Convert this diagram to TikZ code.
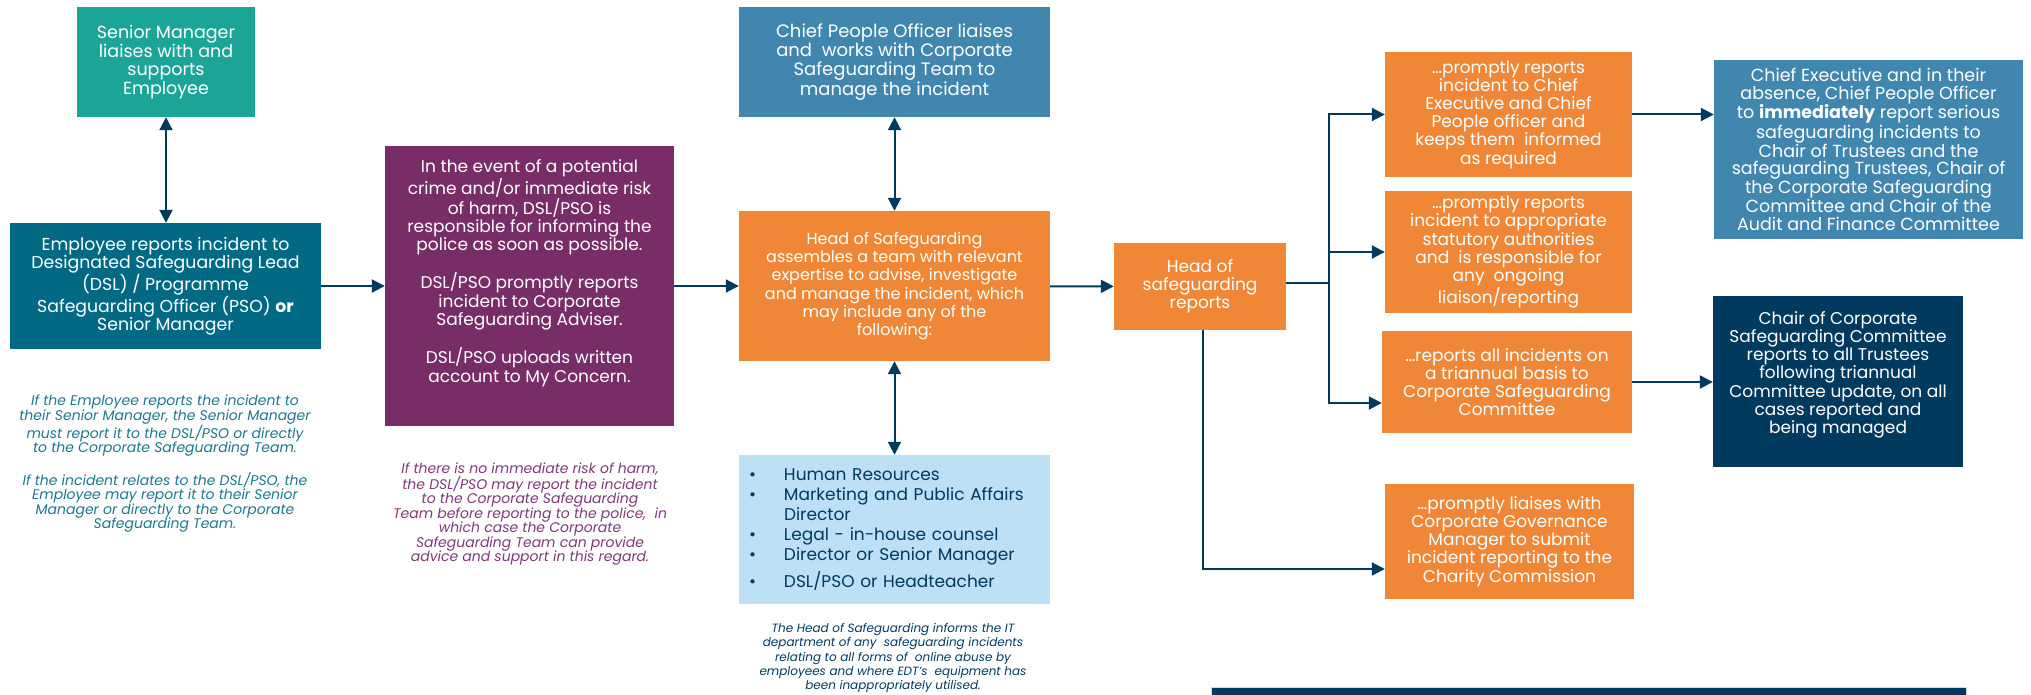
\documentclass[tikz,border=0pt]{standalone}
\usepackage{fontspec}
\setmainfont{Poppins}
\usetikzlibrary{positioning,arrows.meta}
\definecolor{cteal}{RGB}{26,165,150}
\definecolor{cpetrol}{RGB}{0,106,133}
\definecolor{cplum}{RGB}{120,45,103}
\definecolor{csteel}{RGB}{65,134,174}
\definecolor{corange}{RGB}{240,135,55}
\definecolor{csky}{RGB}{189,224,246}
\definecolor{cnavy}{RGB}{0,58,94}
\definecolor{cnoteT}{RGB}{27,120,140}
\definecolor{cnoteP}{RGB}{125,58,120}
\tikzset{
  box/.style={rectangle,fill=#1,text=white,inner sep=2pt,align=center,font=\fontsize{17}{18.2}\selectfont},
  boxS/.style={rectangle,fill=csky,text=cnavy,inner xsep=10pt,inner ysep=2pt,align=left,text width=291pt,font=\fontsize{17}{20}\selectfont},
  note/.style={text=#1,align=center,inner sep=0pt,font=\fontsize{14}{14.5}\selectfont\itshape},
  pipe/.style={draw=cnavy,line width=2pt},
  arr/.style={pipe,-{Triangle[length=13pt,width=13pt]}},
  arrB/.style={pipe,{Triangle[length=13pt,width=13pt]}-{Triangle[length=13pt,width=13pt]}},
}
\newcommand{\itm}{\makebox[35pt][l]{\textbullet}}
\begin{document}
\begin{tikzpicture}[x=1pt,y=-1pt]
  \useasboundingbox (0,0) rectangle (2031,695);
  \node[box=cteal,minimum width=178pt,minimum height=110pt,font=\fontsize{17.5}{18.7}\selectfont] (sm) at (166,62) {Senior Manager\\liaises with and\\supports\\Employee};
  \node[box=cpetrol,minimum width=311pt,minimum height=126pt,font=\fontsize{17.3}{18.2}\selectfont] (emp) at (165.5,286) {Employee reports incident to\\Designated Safeguarding Lead\\(DSL) / Programme\\Safeguarding Officer (PSO) \textbf{or}\\Senior Manager};
  \node[note=cnoteT] (empnote) at (165,464) {If the Employee reports the incident to\\their Senior Manager, the Senior Manager\\must report it to the DSL/PSO or directly\\to the Corporate Safeguarding Team.\\[14.5pt]If the incident relates to the DSL/PSO, the\\Employee may report it to their Senior\\Manager or directly to the Corporate\\Safeguarding Team.};
  \node[box=cplum,minimum width=289pt,minimum height=280pt] (dsl) at (529.5,286) {In the event of a potential\\crime and/or immediate risk\\of harm, DSL/PSO is\\responsible for informing the\\police as soon as possible.\\[17pt]DSL/PSO promptly reports\\incident to Corporate\\Safeguarding Adviser.\\[17pt]DSL/PSO uploads written\\account to My Concern.\\[12pt]\mbox{}};
  \node[note=cnoteP] (dslnote) at (530,514) {If there is no immediate risk of harm,\\the DSL/PSO may report the incident\\to the Corporate Safeguarding\\Team before reporting to the police,\ \ in\\which case the Corporate\\Safeguarding Team can provide\\advice and support in this regard.};
  \node[box=csteel,minimum width=311pt,minimum height=110pt,font=\fontsize{18}{18.4}\selectfont] (cpo) at (894.5,62) {Chief People Officer liaises\\and\ \ works with Corporate\\Safeguarding Team to\\manage the incident};
  \node[box=corange,minimum width=311pt,minimum height=150pt,font=\fontsize{16}{18.2}\selectfont] (hos) at (894.5,286) {Head of Safeguarding\\assembles a team with relevant\\expertise to advise, investigate\\and manage the incident, which\\may include any of the\\following:};
  \node[boxS,minimum height=149pt] (team) at (894.5,529.5) {\itm Human\ Resources\\\itm Marketing and Public Affairs\\\hspace*{35pt}Director\\\itm Legal - in-house counsel\\\itm Director or Senior Manager\\[6pt]\itm DSL/PSO or Headteacher};
  \node[note=cnavy,font=\fontsize{12}{14.2}\selectfont\itshape] (itnote) at (893,658) {The Head of Safeguarding informs the IT\\department of any\ \ safeguarding incidents\\relating to all forms of\ \ online abuse by\\employees and where EDT’s\ \ equipment has\\been inappropriately utilised.};
  \node[box=corange,minimum width=172pt,minimum height=87pt] (hsr) at (1200,286.5) {Head of\\safeguarding\\reports};
  \node[box=corange,minimum width=247pt,minimum height=125pt] (r1) at (1508.5,114.5) {…promptly reports\\incident to Chief\\Executive and Chief\\People officer and\\keeps them\ \ informed\\as required};
  \node[box=corange,minimum width=247pt,minimum height=122pt] (r2) at (1508.5,252) {…promptly reports\\incident to appropriate\\statutory authorities\\and\ \ is responsible for\\any\ \ ongoing\\liaison/reporting};
  \node[box=corange,minimum width=250pt,minimum height=102pt] (r3) at (1507,382) {…reports all incidents on\\a triannual basis to\\Corporate Safeguarding\\Committee};
  \node[box=corange,minimum width=249pt,minimum height=115pt] (r4) at (1509.5,541.5) {…promptly liaises with\\Corporate Governance\\Manager to submit\\incident reporting to the\\Charity Commission};
  \node[box=csteel,minimum width=309pt,minimum height=179pt,font=\fontsize{17.5}{17.5}\selectfont] (ce) at (1868.5,149.5) {Chief Executive and in their\\absence, Chief People Officer\\to \textbf{immediately} report serious\\safeguarding incidents to\\Chair of Trustees and the\\safeguarding Trustees, Chair of\\the Corporate Safeguarding\\Committee and Chair of the\\Audit and Finance Committee};
  \node[box=cnavy,minimum width=250pt,minimum height=171pt] (chair) at (1838,381.5) {Chair of Corporate\\Safeguarding Committee\\reports to all Trustees\\following triannual\\Committee update, on all\\cases reported and\\being managed\\[0pt]\mbox{}};
  \draw[draw=csky,fill=cnavy,line width=1pt] (1211,687) rectangle (1966,730);
  \coordinate (jn) at (1329,283);
  \draw[arrB] (sm.south) -- (sm.south |- emp.north);
  \draw[arr] (emp) -- (dsl); \draw[arr] (dsl) -- (hos);
  \draw[arrB] (cpo) -- (hos); \draw[arrB] (hos) -- (team);
  \draw[arr] (hos) -- (hsr);
  \draw[pipe] (hsr.east |- jn) -- (jn);
  \draw[arr] (jn) |- (r1.west); \draw[arr] (jn) |- (r2.west);
  \draw[arr] (jn) |- ([yshift=-21pt]r3.west);
  \draw[arr] ([xshift=3pt]hsr.south) |- ([yshift=-27.5pt]r4.west);
  \draw[arr] (r1.east) -- (r1.east -| ce.west);
  \draw[arr] (r3.east) -- (r3.east -| chair.west);
\end{tikzpicture}
\end{document}
